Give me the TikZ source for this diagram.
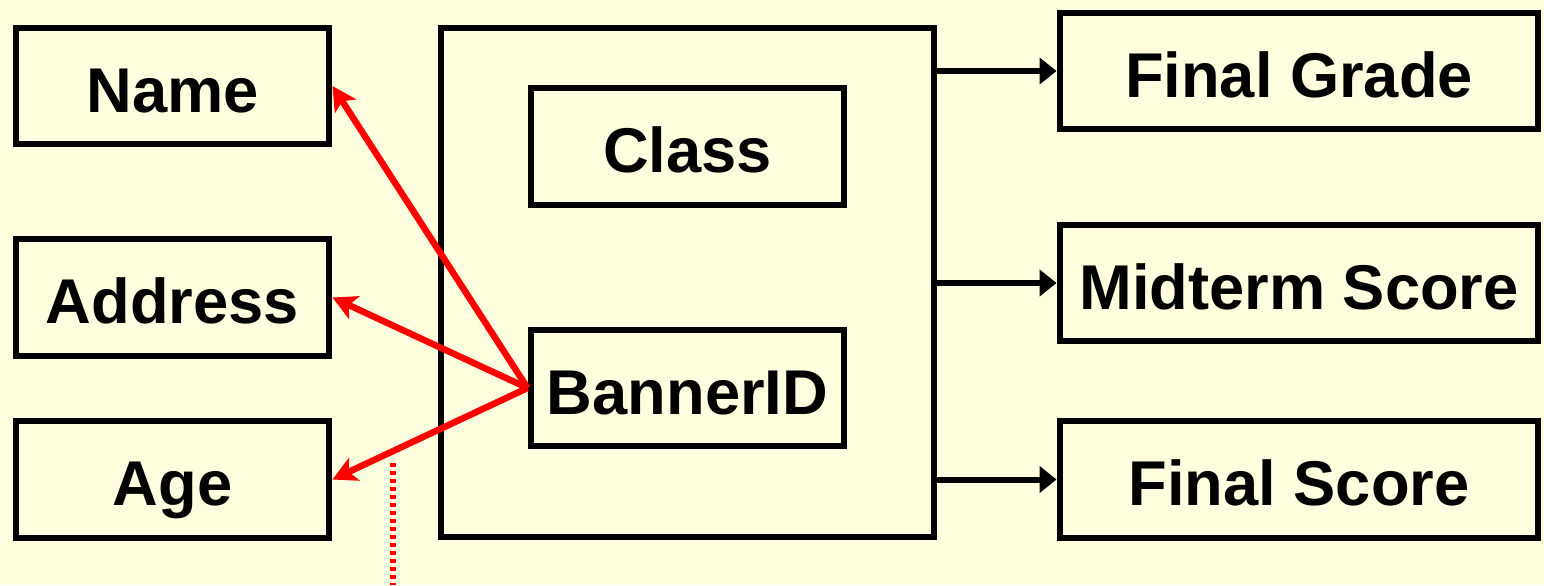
\documentclass[tikz,border=0pt]{standalone}
\usepackage{fontspec}
\setmainfont{Liberation Sans}
\usepackage{tikz}
\usetikzlibrary{arrows.meta, positioning, calc}
\definecolor{slidebg}{RGB}{255,255,224}
\definecolor{linkred}{RGB}{255,0,0}

\begin{document}
\begin{tikzpicture}[x=0.02cm, y=-0.02cm,
  font=\fontsize{36}{40}\selectfont\bfseries,
  field/.style={draw, line width=0.12cm, minimum width=6.28cm,
    minimum height=2.34cm, inner sep=0pt, text height=37pt, text depth=7pt},
  widefield/.style={field, minimum width=9.58cm},
  blackarrow/.style={line width=0.12cm, -{Triangle[length=0.34cm, width=0.52cm]}},
  redarrow/.style={line width=0.13cm, linkred,
    -{Stealth[length=0.48cm, width=0.5cm, inset=0.12cm]}}]

  %% Background and bounding box
  \fill[slidebg] (0,0) rectangle (1544,585);
  \useasboundingbox (0,0) rectangle (1544,585);

  %% Attribute boxes on the left
  \node[field] (name) at (172.5,86) {Name};
  \node[field] (address) at (172.5,297.5) {Address};
  \node[field] (age) at (172.5,479.5) {Age};

  %% Enrolment box with its keys
  \node[draw, line width=0.12cm, minimum width=9.88cm, minimum height=10.2cm]
    (enrol) at (687.5,282.5) {};
  \node[field] (class) at (687.5,146.5) {Class};
  \node[field] (banner) at (687.5,388) {BannerID};

  %% Dependent attributes on the right
  \node[widefield] (fgrade) at (1299,71) {Final Grade};
  \node[widefield] (midterm) at (1299,283) {Midterm Score};
  \node[widefield] (fscore) at (1299,479.5) {Final Score};

  %% Arrows out of the enrolment box
  \draw[blackarrow] (fgrade.west -| enrol.east) -- (fgrade.west);
  \draw[blackarrow] (midterm.west -| enrol.east) -- (midterm.west);
  \draw[blackarrow] (fscore.west -| enrol.east) -- (fscore.west);

  %% BannerID determines the student attributes
  \draw[redarrow] (banner.west) -- (name.east);
  \draw[redarrow] (banner.west) -- (address.east);
  \draw[redarrow] (banner.west) -- (age.east);

  %% Dotted line running off the bottom
  \coordinate (dottop) at (393,463);
  \coordinate (dotbot) at (393,585);
  \draw[linkred, line width=0.12cm, dash pattern=on 0.08cm off 0.08cm]
    (dottop) -- (dotbot);

\end{tikzpicture}
\end{document}
